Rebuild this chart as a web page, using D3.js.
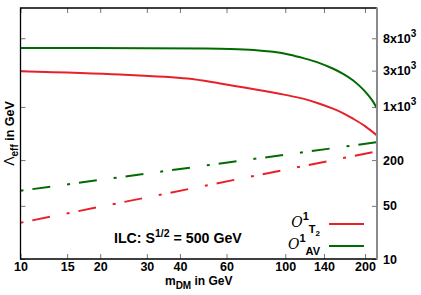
<!DOCTYPE html>
<html><head><meta charset="utf-8">
<script src="https://cdn.jsdelivr.net/npm/d3@7"></script>
<style>
body{margin:0;background:#fff;}
text{font-family:"Liberation Sans",Arial,sans-serif;}
</style></head>
<body><svg id="c" width="421" height="295"></svg>
<script>
// Data (mDM in GeV, Lambda_eff in GeV)
const xTicks = [10, 15, 20, 30, 40, 60, 100, 140, 200];
const yTicks = [10, 50, 200, 1000, 3000, 8000];
const yTickLabels = ["10", "50", "200", "1x10^3", "3x10^3", "8x10^3"];

const massAV = [10, 30, 50, 62, 76, 90, 104, 117, 134, 151, 166, 180, 192, 203, 213, 222];
const lambdaAV = [5940, 5930, 5880, 5800, 5620, 5300, 4860, 4380, 3800, 3200, 2700, 2240, 1850, 1510, 1220, 957];

const massT2 = [10, 23.8, 42.7, 56.8, 70, 87.7, 100, 116.7, 133, 151.4, 165, 180.3, 200, 222];
const lambdaT2 = [2945, 2667, 2360, 2028, 1800, 1571, 1440, 1285, 1120, 948, 830, 700, 560, 421];

// lower (dash-dot) lines: straight in log-log
const massLow = [10, 222];
const lambdaLowAV = [79, 344];
const lambdaLowT2 = [30, 261];

const red = "#e8202a", green = "#006b00";

const svg = d3.select("#c");
const x = d3.scaleLog().domain([10, 222]).range([20.5, 377]);
const y = d3.scaleLog().domain([10, 20000]).range([259, 8]);
const [x0, x1] = x.range(), [yb, yt] = y.range();

// axes (ticks inward)
const gB = svg.append("g").attr("transform", `translate(0,${yb})`)
  .call(d3.axisBottom(x).tickValues(xTicks).tickSize(-5).tickPadding(3).tickFormat(d3.format("d")));
gB.selectAll("text").attr("font-size", 12.5).attr("font-weight", "bold").attr("fill", "#000");
const gT = svg.append("g").attr("transform", `translate(0,${yt})`)
  .call(d3.axisTop(x).tickValues(xTicks).tickSize(-5).tickFormat(""));
const gL = svg.append("g").attr("transform", `translate(${x0},0)`)
  .call(d3.axisLeft(y).tickValues(yTicks).tickSize(-5).tickFormat(""));
const gR = svg.append("g").attr("transform", `translate(${x1},0)`)
  .call(d3.axisRight(y).tickValues(yTicks).tickSize(-5).tickPadding(6).tickFormat(""));
[gB, gT, gL, gR].forEach(g => { g.select(".domain").remove(); g.selectAll(".tick line").attr("stroke", "#777"); });

gR.selectAll(".tick text").each(function(d, i) {
  const t = d3.select(this).text(null).attr("font-size", 12.5).attr("font-weight", "bold").attr("fill", "#000");
  const lab = yTickLabels[i];
  if (lab.includes("^")) {
    const [base, sup] = lab.split("^");
    t.append("tspan").text(base);
    t.append("tspan").attr("dy", -6).attr("font-size", 10).text(sup);
  } else t.text(lab);
});

// lines
const line = d3.line().x(d => x(d[0])).y(d => y(d[1]));
const zip = (a, b) => a.map((v, i) => [v, b[i]]);
const plot = svg.append("g");
plot.append("path").datum(zip(massLow, lambdaLowAV)).attr("d", line)
  .attr("fill", "none").attr("stroke", green).attr("stroke-width", 2).attr("stroke-dasharray", "3,9,18,17");
plot.append("path").datum(zip(massLow, lambdaLowT2)).attr("d", line)
  .attr("fill", "none").attr("stroke", red).attr("stroke-width", 2).attr("stroke-dasharray", "3,9,18,17");
const smooth = d3.line().x(d => x(d[0])).y(d => y(d[1])).curve(d3.curveCatmullRom.alpha(0.5));
plot.append("path").datum(zip(massAV, lambdaAV)).attr("d", smooth)
  .attr("fill", "none").attr("stroke", green).attr("stroke-width", 2);
plot.append("path").datum(zip(massT2, lambdaT2)).attr("d", smooth)
  .attr("fill", "none").attr("stroke", red).attr("stroke-width", 2);

// frame
svg.append("path").attr("d", `M${x1},${yt}H${x0}V${yb}H${x1}`).attr("fill", "none").attr("stroke", "#000").attr("stroke-width", 1.3);
svg.append("line").attr("x1", x1).attr("x2", x1).attr("y1", yt - 0.6).attr("y2", yb + 0.6).attr("stroke", "#8a8a8a").attr("stroke-width", 2);

// axis labels
const xl = svg.append("text").attr("x", (x0 + x1) / 2).attr("y", 285).attr("text-anchor", "middle")
  .attr("font-size", 12).attr("font-weight", "bold");
xl.append("tspan").text("m");
xl.append("tspan").attr("dy", 4).attr("font-size", 10).text("DM");
xl.append("tspan").attr("dy", -4).text(" in GeV");

const yl = svg.append("text").attr("transform", `translate(14,${(yt + yb) / 2}) rotate(-90)`)
  .attr("text-anchor", "middle").attr("font-size", 12.5).attr("font-weight", "bold");
yl.append("tspan").attr("font-weight", "normal").attr("font-size", 14).text("Λ");
yl.append("tspan").attr("dy", 4).attr("font-size", 10).text("eff");
yl.append("tspan").attr("dy", -4).text(" in GeV");

const ilc = svg.append("text").attr("x", 114).attr("y", 243).attr("font-size", 14.2).attr("font-weight", "bold");
ilc.append("tspan").text("ILC: S");
ilc.append("tspan").attr("dy", -6).attr("font-size", 10.5).text("1/2");
ilc.append("tspan").attr("dy", 6).text(" = 500 GeV");

// legend
const legend = [
  {sub: "T", sub2: "2", color: red, y: 224},
  {sub: "AV", sub2: "", color: green, y: 246}
];
legend.forEach(e => {
  svg.append("line").attr("x1", 329).attr("x2", 364).attr("y1", e.y).attr("y2", e.y)
    .attr("stroke", e.color).attr("stroke-width", 2);
  const t = svg.append("text").attr("x", 320).attr("y", e.y + 3).attr("text-anchor", "end")
    .attr("font-size", 12.5);
  t.append("tspan").attr("font-family", "'DejaVu Serif',serif").attr("font-style", "italic").attr("font-size", 14).text("O");
  t.append("tspan").attr("dy", -7).attr("font-size", 11).attr("font-weight", "bold").text("1");
  t.append("tspan").attr("dy", 13).attr("font-size", 11).attr("font-weight", "bold").text(e.sub);
  if (e.sub2) t.append("tspan").attr("dy", 3).attr("font-size", 8).attr("font-weight", "bold").text(e.sub2);
});
</script></body></html>
